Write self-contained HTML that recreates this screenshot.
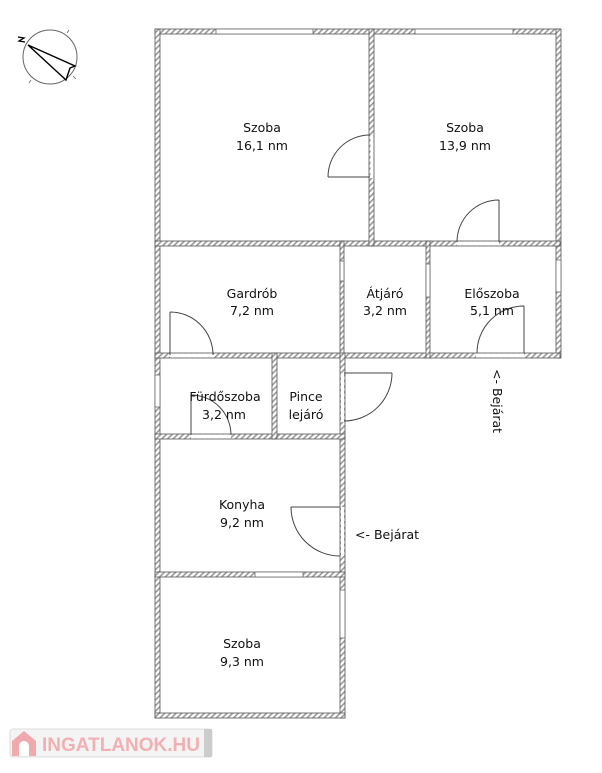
<!DOCTYPE html>
<html><head><meta charset="utf-8"><style>
body{margin:0;background:#fff;width:602px;height:768px;overflow:hidden}
text{font-family:"DejaVu Sans","Liberation Sans",sans-serif;font-size:12.5px;fill:#111}
</style></head><body>
<svg width="602" height="768" viewBox="0 0 602 768" xmlns="http://www.w3.org/2000/svg">
<defs>
<pattern id="h" width="4" height="4" patternUnits="userSpaceOnUse" patternTransform="rotate(45)">
<rect width="4" height="4" fill="#fff"/><rect width="1.6" height="4" fill="#999"/>
</pattern>
</defs>
<g fill="url(#h)" stroke="#555" stroke-width="0.8">
<rect x="155" y="29" width="405" height="5"/>
<rect x="155" y="29" width="5" height="689"/>
<rect x="556" y="29" width="5" height="329"/>
<rect x="155" y="241" width="405" height="5"/>
<rect x="155" y="353" width="405" height="5"/>
<rect x="369" y="29" width="5" height="217"/>
<rect x="340" y="241" width="4" height="117"/>
<rect x="426" y="241" width="4" height="117"/>
<rect x="340" y="353" width="5" height="365"/>
<rect x="155" y="434" width="190" height="5"/>
<rect x="272" y="353" width="5" height="86"/>
<rect x="155" y="572" width="190" height="5"/>
<rect x="155" y="713" width="190" height="5"/>
</g>
<g fill="#fff" stroke="#666" stroke-width="0.8">
<rect x="216" y="29" width="97" height="5"/>
<rect x="415" y="29" width="98" height="5"/>
<rect x="255" y="572" width="48" height="5"/>
<rect x="340" y="590" width="5" height="48"/>
<rect x="155" y="375" width="5" height="32"/>
<rect x="556" y="260" width="5" height="32"/>
<rect x="340" y="261" width="4" height="20"/>
<rect x="426" y="264" width="4" height="33"/>
</g>
<g fill="#fff" stroke="none">
<rect x="370.5" y="136" width="3" height="42"/>
<rect x="457" y="241.5" width="42" height="4"/>
<rect x="476" y="353.5" width="48" height="4"/>
<rect x="170" y="353.5" width="43" height="4"/>
<rect x="341" y="373" width="3" height="49"/>
<rect x="191" y="434.5" width="40" height="4"/>
<rect x="341" y="507" width="3" height="49"/>
</g>
<g fill="none" stroke="#444" stroke-width="1">
<path d="M370 177H328M328 177A42 42 0 0 1 370 135"/>
<path d="M499 242V200M499 200A42 42 0 0 0 457 242"/>
<path d="M524 353V306M524 306A47 47 0 0 0 477 353"/>
<path d="M170 355V312M170 312A43 43 0 0 1 213 355"/>
<path d="M344 373H392M392 373A48 48 0 0 1 344 421"/>
<path d="M191 435V395M191 395A40 40 0 0 1 231 435"/>
<path d="M340 507H291M291 507A49 49 0 0 0 340 556"/>
</g>
<circle cx="50" cy="57" r="27" fill="none" stroke="#666" stroke-width="1"/>
<g stroke="#666" stroke-width="0.8"><path d="M67 33l2-3M31 80l-2 3M73 76l3 3"/></g>
<path d="M28 45L75 66L70 68L66 80Z" fill="#fff" stroke="#000" stroke-width="1.4"/>
<path d="M18 37l6 1-5 3 6 1" fill="none" stroke="#000" stroke-width="1.3"/>
<g text-anchor="middle">
<text x="262" y="132">Szoba</text><text x="262" y="150">16,1 nm</text>
<text x="465" y="132">Szoba</text><text x="465" y="150">13,9 nm</text>
<text x="252" y="298">Gardrób</text><text x="252" y="315">7,2 nm</text>
<text x="385" y="298">Átjáró</text><text x="385" y="315">3,2 nm</text>
<text x="492" y="298">Előszoba</text><text x="492" y="315">5,1 nm</text>
<text x="225" y="401">Fürdőszoba</text><text x="224" y="419">3,2 nm</text>
<text x="306" y="401">Pince</text><text x="306" y="419">lejáró</text>
<text x="242" y="509">Konyha</text><text x="242" y="527">9,2 nm</text>
<text x="242" y="648">Szoba</text><text x="242" y="666">9,3 nm</text>
</g>
<text x="355" y="539">&lt;- Bejárat</text>
<text x="0" y="0" transform="translate(493,369) rotate(90)">&lt;- Bejárat</text>
<rect x="10" y="729" width="202" height="28" rx="3" fill="#f4f4f4" stroke="#ddd"/>
<rect x="204" y="729" width="8" height="28" fill="#ccc"/>
<path d="M12 741L24 731L36 741V756H12Z" fill="#f0a9ad"/>
<path d="M19 756V746a5 5 0 0 1 10 0V756Z" fill="#fff"/>
<text x="42" y="751" textLength="158" lengthAdjust="spacingAndGlyphs" style="font-family:'Liberation Sans',sans-serif;font-size:19px;font-weight:bold;fill:#f1b1b4">INGATLANOK.HU</text>
</svg>
</body></html>
